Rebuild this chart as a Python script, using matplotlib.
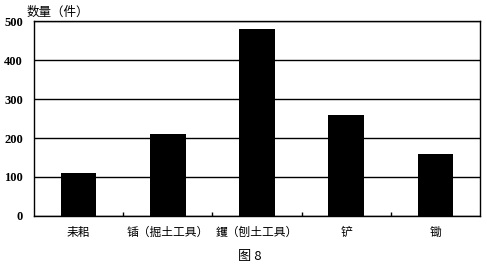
import matplotlib.pyplot as plt
import numpy as np

plt.rcParams['font.family'] = ['Noto Sans CJK SC', 'DejaVu Sans']

# data
tools = ['耒耜', '锸（掘土工具）', '钁（刨土工具）', '铲', '锄']
counts = [110, 210, 480, 260, 160]
yticks = [0, 100, 200, 300, 400, 500]

fig = plt.figure(figsize=(4.87, 2.66), dpi=100)
ax = fig.add_axes([0.0698, 0.188, 0.9158, 0.733])

x = np.arange(len(tools))
ax.bar(x, counts, width=0.4, color='black', zorder=3)

ax.set_xlim(-0.5, len(tools) - 0.5)
ax.set_ylim(0, 500)
ax.set_yticks(yticks)
ax.set_yticklabels([str(v) for v in yticks], family='Liberation Serif',
                   fontsize=9, fontweight='bold')
ax.yaxis.grid(True, color='black', lw=1.0, zorder=1)
ax.tick_params(axis='y', length=0, pad=8)

ax.set_xticks(x)
ax.set_xticklabels(tools, fontsize=8.5)
ax.tick_params(axis='x', length=0, pad=7)
ax.set_xticks(np.arange(0.5, len(tools) - 1, 1), minor=True)
ax.tick_params(axis='x', which='minor', direction='in', length=3, width=1, color='black')

for s in ax.spines.values():
    s.set_color('black')
    s.set_linewidth(1.0)

fig.text(0.055, 0.955, '数量（件）', fontsize=9, ha='left', va='center')
fig.text(0.513, 0.034, '图 8', fontsize=9.5, ha='center', va='center')

fig.savefig('out.png', dpi=100)
